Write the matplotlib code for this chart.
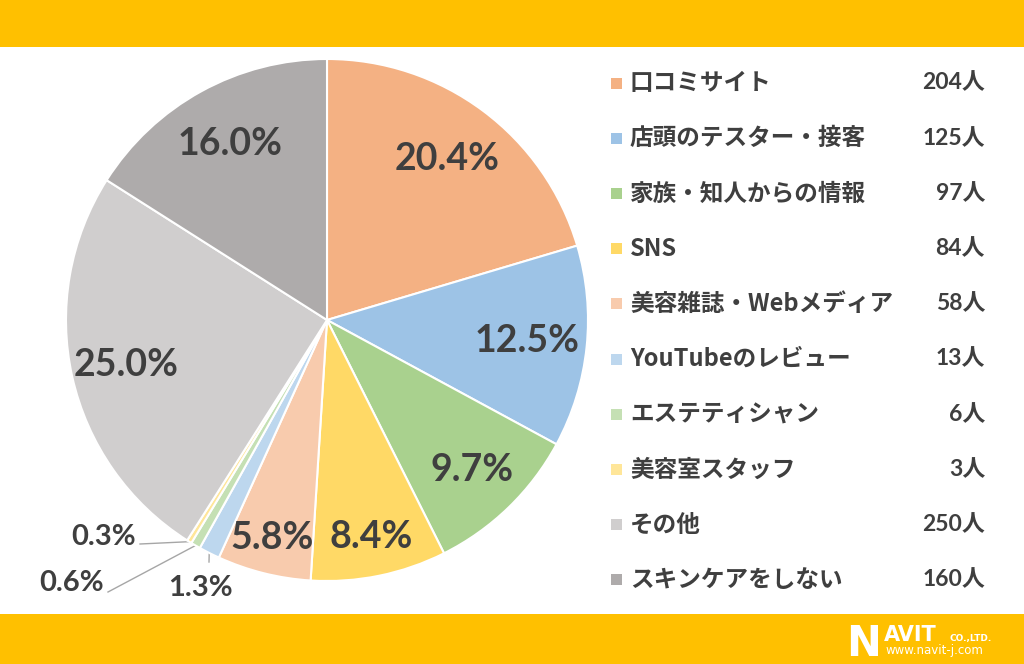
import numpy as np
import matplotlib.pyplot as plt
from matplotlib.patches import Rectangle

labels = ["口コミサイト", "店頭のテスター・接客", "家族・知人からの情報", "SNS",
          "美容雑誌・Webメディア", "YouTubeのレビュー", "エステティシャン",
          "美容室スタッフ", "その他", "スキンケアをしない"]
counts = [204, 125, 97, 84, 58, 13, 6, 3, 250, 160]
colors = ["#F4B183", "#9DC3E6", "#A9D18E", "#FFD966", "#F8CBAD",
          "#BDD7EE", "#C5E0B4", "#FFE699", "#D0CECE", "#AEABAB"]

W, H = 1024, 664
fig = plt.figure(figsize=(W / 100, H / 100), dpi=100)
fig.patch.set_facecolor("white")

# background axes in pixel coords
bg = fig.add_axes([0, 0, 1, 1])
bg.set_xlim(0, W)
bg.set_ylim(H, 0)
bg.axis("off")
band = "#FFC000"
bg.add_patch(Rectangle((0, 0), W, 47, color=band, lw=0))
bg.add_patch(Rectangle((0, 614), W, 50, color=band, lw=0))

txt = "#3F3F3F"
num_font = ["Lato", "Noto Sans CJK JP"]
jp_font = ["Noto Sans CJK JP", "DejaVu Sans"]

# pie
cx, cy, R, hw = 327, 320, 261, 300
ax = fig.add_axes([(cx - hw) / W, (H - cy - hw) / H, 2 * hw / W, 2 * hw / H])
wedges, _ = ax.pie(counts, colors=colors, startangle=90, counterclock=False,
                   wedgeprops=dict(edgecolor="white", linewidth=1.5))
ax.set_xlim(-hw / R, hw / R)
ax.set_ylim(-hw / R, hw / R)
ax.axis("off")

total = sum(counts)
pcts = [c / total * 100 for c in counts]


def to_px(x, y):
    return cx + R * x, cy - R * y


big_r = [0.77, 0.77, 0.8, 0.85, 0.86, None, None, None, 0.79, 0.77]
for i, w in enumerate(wedges):
    ang = np.deg2rad((w.theta1 + w.theta2) / 2)
    if big_r[i] is not None:
        ax.text(big_r[i] * np.cos(ang), big_r[i] * np.sin(ang), f"{pcts[i]:.1f}%",
                ha="center", va="center", fontsize=27, fontweight="bold",
                color=txt, family=num_font)

# small slices with leader lines
lead = "#A6A6A6"
small = {5: ((209, 562), (200, 588), "center"),
         6: ((108, 592), (104, 583), "right"),
         7: ((140, 544), (136, 537), "right")}
for i, (end, tpos, ha) in small.items():
    w = wedges[i]
    ang = np.deg2rad((w.theta1 + w.theta2) / 2)
    sx, sy = to_px(np.cos(ang), np.sin(ang))
    bg.plot([sx, end[0]], [sy, end[1]], color=lead, lw=1)
    bg.text(tpos[0], tpos[1], f"{pcts[i]:.1f}%", ha=ha, va="center",
            fontsize=21, fontweight="bold", color=txt, family=num_font)

# legend
y0, dy = 83, 55.2
for i, lab in enumerate(labels):
    y = y0 + i * dy
    bg.add_patch(Rectangle((611, y - 5.5), 11, 11, color=colors[i], lw=0))
    bg.text(630, y, lab, ha="left", va="center", fontsize=17, fontweight="bold",
            color=txt, family=jp_font)
    bg.text(985, y, f"{counts[i]}人", ha="right", va="center", fontsize=16.5,
            fontweight="bold", color=txt, family=num_font)

# logo
bg.text(846, 656, "N", ha="left", va="baseline", fontsize=30, fontweight="bold",
        color="white", family="DejaVu Sans")
bg.text(884, 641, "AVIT", ha="left", va="baseline", fontsize=15, fontweight="bold",
        color="white", family="DejaVu Sans")
bg.text(949, 641, "CO.,LTD.", ha="left", va="baseline", fontsize=6.5, fontweight="bold",
        color="white", family="DejaVu Sans")
bg.text(886, 654, "www.navit-j.com", ha="left", va="baseline", fontsize=8.5,
        color="white", family="DejaVu Sans")

fig.savefig("out.png", dpi=100, facecolor=fig.get_facecolor())
